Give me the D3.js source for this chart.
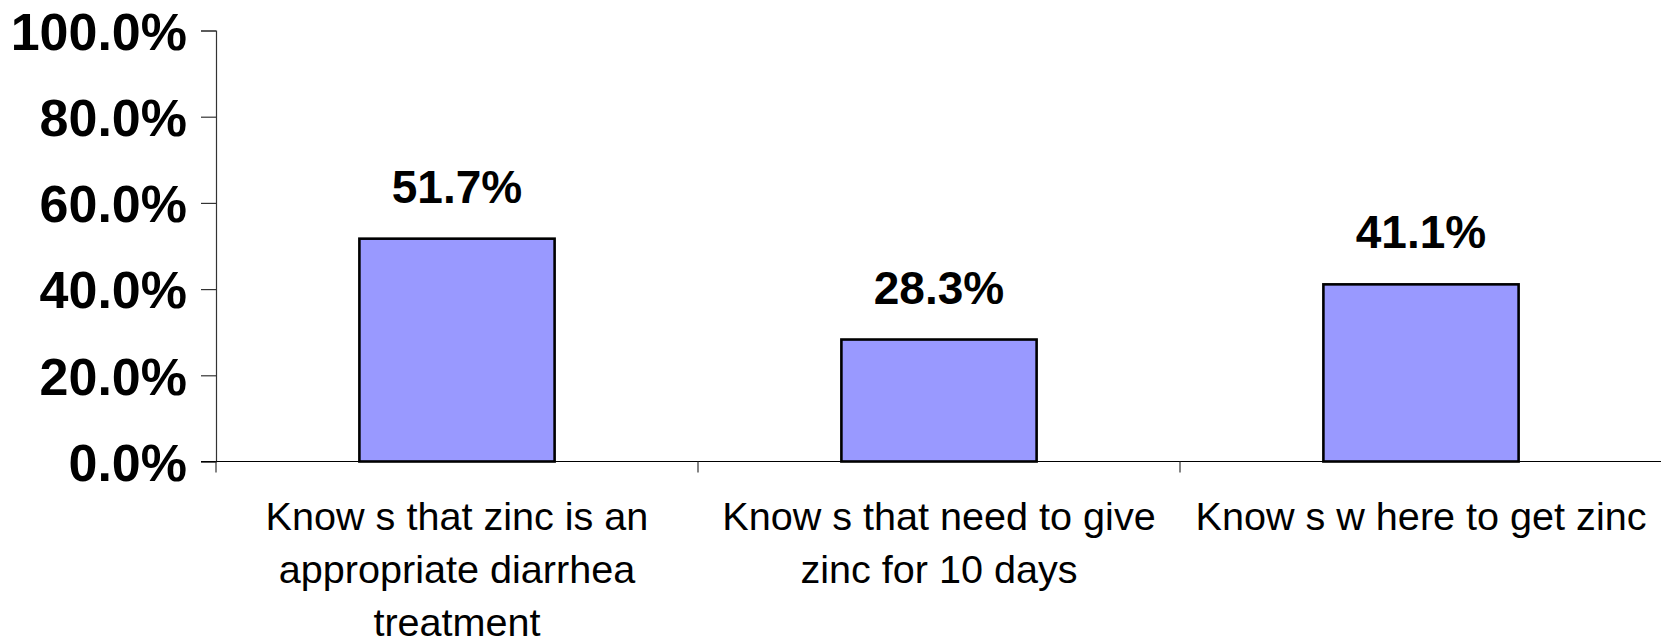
<!DOCTYPE html>
<html>
<head>
<meta charset="utf-8">
<script src="https://cdn.jsdelivr.net/npm/d3@7"></script>
<style>
  html, body { margin: 0; padding: 0; background: #fff; }
  svg { display: block; }
  text { font-family: "Liberation Sans", Arial, sans-serif; fill: #000; }
</style>
</head>
<body>
<svg id="chart" width="1661" height="644"></svg>
<script>
// Zinc knowledge indicators (share of respondents)
const categories = [
  "Know s that zinc is an appropriate diarrhea treatment",
  "Know s that need to give zinc for 10 days",
  "Know s w here to get zinc"
];
const values = [0.517, 0.283, 0.411];
const yTicks = [0, 0.2, 0.4, 0.6, 0.8, 1.0];

const svg = d3.select("#chart");
const margin = { left: 216, right: 1662, top: 30.5, bottom: 461.5 };

const x = d3.scaleBand()
  .domain(categories)
  .range([margin.left, margin.right])
  .paddingInner(0.595)
  .paddingOuter(0.2975);

const y = d3.scaleLinear().domain([0, 1]).range([margin.bottom, margin.top]);
const step = x.step();
const fmt = d3.format(".1%");

// Y axis
const yAxis = svg.append("g")
  .attr("transform", `translate(${margin.left},0)`)
  .call(d3.axisLeft(y).tickValues(yTicks).tickFormat(fmt).tickSize(15).tickPadding(14));
yAxis.select(".domain").attr("stroke", "#333").attr("stroke-width", 1.2);
yAxis.selectAll(".tick line").attr("stroke", "#333").attr("stroke-width", 1.2);
yAxis.selectAll(".tick text")
  .attr("font-size", 52)
  .attr("font-weight", "bold")
  .attr("dy", "0.36em")
  .style("font-family", "'Liberation Sans', Arial, sans-serif")
  .attr("fill", "#000");

// Bars
svg.append("g").selectAll("rect")
  .data(values)
  .join("rect")
  .attr("x", (d, i) => x(categories[i]))
  .attr("y", d => y(d))
  .attr("width", x.bandwidth())
  .attr("height", d => y(0) - y(d))
  .attr("fill", "#9999FF")
  .attr("stroke", "#000")
  .attr("stroke-width", 2.6);

// X axis baseline and category separators
svg.append("line")
  .attr("x1", margin.left - 15).attr("x2", margin.right)
  .attr("y1", y(0)).attr("y2", y(0))
  .attr("stroke", "#000").attr("stroke-width", 1.2);

const bounds = categories.map(c => x(c) - step * x.paddingInner() / 2);
svg.append("g").selectAll("line")
  .data(bounds)
  .join("line")
  .attr("x1", d => d).attr("x2", d => d)
  .attr("y1", y(0)).attr("y2", y(0) + 11)
  .attr("stroke", "#333").attr("stroke-width", 1.2);

// Value labels
svg.append("g").selectAll("text")
  .data(values)
  .join("text")
  .attr("x", (d, i) => x(categories[i]) + x.bandwidth() / 2)
  .attr("y", d => y(d) - 36)
  .attr("text-anchor", "middle")
  .attr("font-size", 46)
  .attr("font-weight", "bold")
  .text(d => fmt(d));

// Category labels, wrapped to the category width
const labels = svg.append("g").selectAll("text")
  .data(categories)
  .join("text")
  .attr("text-anchor", "middle")
  .attr("font-size", 39.6)
  .attr("x", d => x(d) + x.bandwidth() / 2)
  .attr("y", 530);

labels.each(function (d) {
  const t = d3.select(this);
  const cx = +t.attr("x");
  const words = d.split(" ");
  const maxW = 470;
  let line = [];
  let tspan = t.append("tspan").attr("x", cx).attr("dy", 0);
  words.forEach(w => {
    line.push(w);
    tspan.text(line.join(" "));
    if (tspan.node().getComputedTextLength() > maxW && line.length > 1) {
      line.pop();
      tspan.text(line.join(" "));
      line = [w];
      tspan = t.append("tspan").attr("x", cx).attr("dy", 53).text(w);
    }
  });
});
</script>
</body>
</html>
